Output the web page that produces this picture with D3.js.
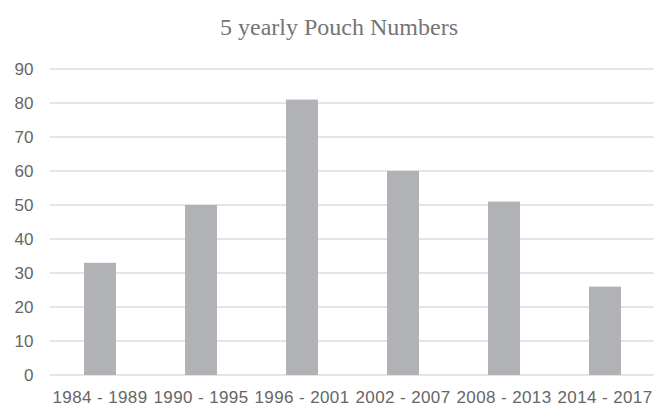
<!DOCTYPE html>
<html>
<head>
<meta charset="utf-8">
<script src="https://cdn.jsdelivr.net/npm/d3@7"></script>
<style>
  html, body { margin: 0; padding: 0; background: #fff; }
  svg { display: block; }
</style>
</head>
<body>
<svg id="chart" width="658" height="407"></svg>
<script>
// Pouch counts grouped into multi-year periods
const periods = ["1984 - 1989", "1990 - 1995", "1996 - 2001", "2002 - 2007", "2008 - 2013", "2014 - 2017"];
const pouchCounts = [33, 50, 81, 60, 51, 26];
const yTicks = [0, 10, 20, 30, 40, 50, 60, 70, 80, 90];
const chartTitle = "5 yearly Pouch Numbers";

const svg = d3.select("#chart");
const margin = { top: 69, right: 2.5, bottom: 32, left: 49.5 };
const width = 658, height = 407;

const x = d3.scaleBand()
  .domain(periods)
  .range([margin.left, width - margin.right])
  .paddingInner(0.683)
  .paddingOuter(0.3415);

const y = d3.scaleLinear()
  .domain([0, 90])
  .range([height - margin.bottom, margin.top]);

// Title
svg.append("text")
  .attr("x", 339)
  .attr("y", 35)
  .attr("text-anchor", "middle")
  .attr("font-family", "'Liberation Serif', 'DejaVu Serif', serif")
  .attr("font-size", 24)
  .attr("fill", "#757575")
  .text(chartTitle);

// Horizontal gridlines
svg.append("g")
  .selectAll("line")
  .data(yTicks)
  .join("line")
  .attr("x1", margin.left)
  .attr("x2", width - margin.right - 2)
  .attr("y1", d => y(d))
  .attr("y2", d => y(d))
  .attr("stroke", "#dcdcdc")
  .attr("stroke-width", 1.5);

// Y axis labels
const yAxis = d3.axisLeft(y).tickValues(yTicks).tickSize(0).tickPadding(16);
svg.append("g")
  .attr("transform", `translate(${margin.left},0)`)
  .call(yAxis)
  .call(g => g.select(".domain").remove())
  .call(g => g.selectAll("text")
    .attr("font-family", "'Liberation Sans', Arial, sans-serif")
    .attr("font-size", 17)
    .attr("fill", "#666"));

// Bars
svg.append("g")
  .selectAll("rect")
  .data(pouchCounts)
  .join("rect")
  .attr("x", (d, i) => x(periods[i]))
  .attr("width", x.bandwidth())
  .attr("y", d => y(d))
  .attr("height", d => y(0) - y(d))
  .attr("fill", "#b1b2b5");

// X axis labels
const xAxis = d3.axisBottom(x).tickSize(0).tickPadding(16);
svg.append("g")
  .attr("transform", `translate(0,${y(0)})`)
  .call(xAxis)
  .call(g => g.select(".domain").remove())
  .call(g => g.selectAll("text")
    .attr("font-family", "'Liberation Sans', Arial, sans-serif")
    .attr("font-size", 17)
    .attr("letter-spacing", "0.4px")
    .attr("fill", "#666"));
</script>
</body>
</html>
